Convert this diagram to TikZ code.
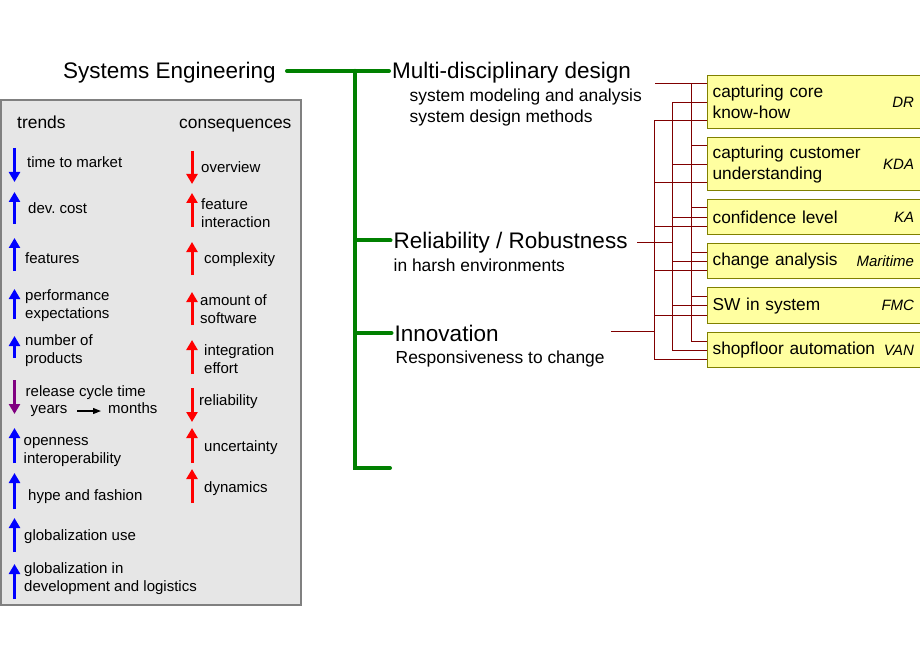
\documentclass[tikz,border=0pt]{standalone}
\usepackage{fontspec}
\setmainfont{Liberation Sans}
\frenchspacing
\usetikzlibrary{arrows.meta,positioning,calc}
\definecolor{treegreen}{RGB}{0,128,0}
\definecolor{linkred}{RGB}{128,0,0}
\definecolor{panelgray}{RGB}{230,230,230}
\definecolor{panelline}{RGB}{128,128,128}
\definecolor{boxyellow}{RGB}{255,255,160}
\definecolor{boxolive}{RGB}{128,128,0}
\definecolor{cyclepurple}{RGB}{128,0,128}

\begin{document}
\begin{tikzpicture}[x=1pt,y=-1pt,>=Latex,
  head/.style={inner xsep=3pt,inner ysep=0pt,text height=16pt,text depth=0pt,font=\fontsize{22.5}{26}\selectfont},
  sub/.style={anchor=base west,inner sep=0pt,align=left,font=\fontsize{17.4}{21}\selectfont},
  item/.style={anchor=base west,inner sep=0pt,yshift=-1.5pt,align=left,font=\fontsize{15}{18}\selectfont},
  tree/.style={treegreen,line width=4pt,line cap=round},
  link/.style={linkred,line width=1pt},
  sbox/.style={draw=boxolive,line width=1.2pt,fill=boxyellow,text width=210pt,inner xsep=5pt,align=left,anchor=north west,font=\fontsize{17.3}{21}\selectfont},
  tag/.style={anchor=east,inner sep=0pt,font=\fontsize{15}{18}\selectfont\itshape},
  trend/.style={line width=3pt,-{Triangle[width=11pt,length=10pt]}},
]
\useasboundingbox (0,0) rectangle (920,660);
\clip (0,0) rectangle (920,660);

% green tree
\node[head,anchor=east,inner xsep=11pt] (se) at (287,71) {Systems Engineering};
\node[head,anchor=west] (mdd) at (389,71) {Multi-disciplinary design};
\node[head,anchor=west] (rel) at (390.5,240.5) {Reliability / Robustness};
\node[head,anchor=west] (inn) at (391.5,333) {Innovation};
\node[sub] (mddsub) at (409.5,123) {system modeling and analysis\\system design methods};
\node[sub] (relsub) at (393.5,271) {in harsh environments};
\node[sub] (innsub) at (395.5,363) {Responsiveness to change};
\coordinate (trunktop) at (355,71);
\coordinate (trunkend) at (390,468);
\draw[tree] (se.east) -- (mdd.west);
\draw[tree] (trunktop) |- (trunkend);
\draw[tree] (trunktop) |- (rel.west);
\draw[tree] (trunktop) |- (inn.west);

% boxes
\node[sbox,minimum height=53pt] (box1) at (707,75) {capturing core\\know-how};
\node[sbox,minimum height=53pt] (box2) at (707,137) {capturing customer\\understanding};
\node[sbox,minimum height=35pt] (box3) at (707,199) {confidence level};
\node[sbox,minimum height=35pt] (box4) at (707,243) {change analysis};
\node[sbox,minimum height=36pt] (box5) at (707,287) {SW in system};
\node[sbox,minimum height=35pt] (box6) at (707,332) {shopfloor automation};
\foreach \b/\t in {1/DR,2/KDA,3/KA,4/Maritime,5/FMC,6/VAN}
  \node[tag] (tag\b) at ([xshift=-14pt]box\b.east) {\t};

% links
\coordinate (mddout) at (655,84);
\coordinate (relout) at (637,243);
\coordinate (innout) at (611,331);
\coordinate (busM) at (691,84);
\coordinate (busR) at (672,243);
\coordinate (busI) at (654,331);
\draw[link] (mddout) -- (busM);
\draw[link] (relout) -- (busR);
\draw[link] (innout) -- (busI);
\foreach \b in {1,...,6}{
  \draw[link] (busM) |- ([yshift=-9pt]box\b.north west);
  \draw[link] (busR) |- (box\b.west);
  \draw[link] (busI) |- ([yshift=9pt]box\b.south west);
}

% trends panel
\draw[draw=panelline,fill=panelgray,line width=1.3pt] (1,100) rectangle (301,605);
\node[sub] (trends) at (17,128.5) {trends};
\node[sub] (conseq) at (179,128.5) {consequences};

\foreach \yfrom/\yto in {148/182,224/192,271/238,319/289,358/336,463/428,509/473,552/518,599/564}
  \draw[trend,blue] (14.5,\yfrom) -- (14.5,\yto);
\draw[trend,cyclepurple] (14.5,380) -- (14.5,414);
\foreach \yfrom/\yto in {151/184,227/193,275/242,325/292,374/340,388/422,463/428,503/469}
  \draw[trend,red] (192,\yfrom) -- (192,\yto);

\node[item] (t1) at (27,166) {time to market};
\node[item] (t2) at (28,212) {dev. cost};
\node[item] (t3) at (25,262) {features};
\node[item] (t4) at (25,317) {performance\\expectations};
\node[item] (t5) at (25,362) {number of\\products};
\node[item] (t6) at (25.5,395) {release cycle time};
\node[item] (yrs) at (30.5,412) {years};
\node[item] (mths) at (108,412) {months};
\draw[-{Triangle[width=6pt,length=8pt]},line width=1.2pt,shorten <=9.5pt,shorten >=7pt] (yrs.east) -- (yrs.east -| mths.west);
\node[item] (t7) at (23.5,462) {openness\\interoperability};
\node[item] (t8) at (28,499) {hype and fashion};
\node[item] (t9) at (24,539) {globalization use};
\node[item] (t10) at (24,590) {globalization in\\development and logistics};

\node[item] (c1) at (201,171) {overview};
\node[item] (c2) at (201,226) {feature\\interaction};
\node[item] (c3) at (204,262) {complexity};
\node[item] (c4) at (200,322) {amount of\\software};
\node[item] (c5) at (204,372) {integration\\effort};
\node[item] (c6) at (199,404) {reliability};
\node[item] (c7) at (204,450) {uncertainty};
\node[item] (c8) at (204,491) {dynamics};
\end{tikzpicture}
\end{document}
